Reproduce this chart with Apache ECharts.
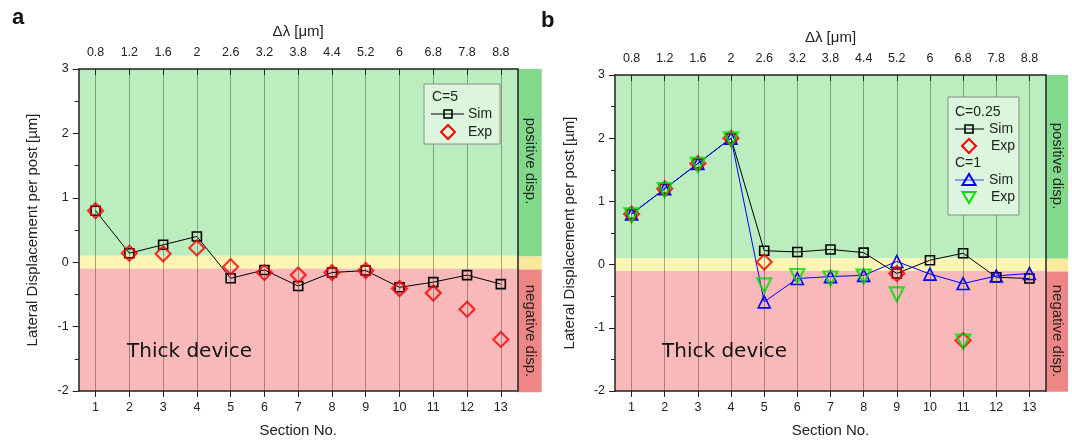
<!DOCTYPE html>
<html><head><meta charset="utf-8">
<script src="https://cdn.jsdelivr.net/npm/echarts@6/dist/echarts.min.js"></script>
<style>html,body{margin:0;padding:0;background:#fff}#c{width:1072px;height:443px}</style>
</head><body><div id="c"></div>
<script>
// ---- data ----
const sections = ['1','2','3','4','5','6','7','8','9','10','11','12','13'];
const deltaLambda = ['0.8','1.2','1.6','2','2.6','3.2','3.8','4.4','5.2','6','6.8','7.8','8.8'];
const yRange = [-2, 3];
const neutralBand = [-0.1, 0.1];
// panel a, C=5
const simC5 = [0.80, 0.14, 0.27, 0.40, -0.25, -0.12, -0.37, -0.16, -0.13, -0.39, -0.31, -0.20, -0.34];
const expC5 = [0.80, 0.14, 0.13, 0.22, -0.07, -0.16, -0.20, -0.16, -0.13, -0.41, -0.48, -0.73, -1.20];
// panel b, C=0.25 and C=1
const simC025 = [0.80, 1.20, 1.60, 2.00, 0.22, 0.20, 0.24, 0.19, -0.14, 0.07, 0.18, -0.20, -0.22];
const expC025 = [0.80, 1.20, 1.60, 2.00, 0.04, null, null, null, -0.14, null, -1.20, null, null];
const simC1 = [0.80, 1.20, 1.60, 2.00, -0.59, -0.22, -0.19, -0.17, 0.05, -0.15, -0.30, -0.18, -0.14];
const expC1 = [0.78, 1.18, 1.58, 1.98, -0.33, -0.18, -0.22, -0.19, -0.47, null, -1.22, null, null];

// ---- styling ----
const FONT = 'Liberation Sans, Arial, sans-serif';
const TXT = '#222';
const C = {
  green: '#bbedbe', yellow: '#fdf5b4', pink: '#f9b9bb',
  sGreen: '#82d98b', sYellow: '#f9e99c', sRed: '#ef8686',
  grid: 'rgba(60,60,60,0.45)'
};
const panels = [
  {left: 78.7, top: 69, width: 439, height: 323.3, strip: 24},
  {left: 615, top: 75, width: 431, height: 316.8, strip: 22}
];

const grid = [], xAxis = [], yAxis = [], series = [];
function bands(colors) {
  return [
    [{yAxis: neutralBand[1], itemStyle: {color: colors[0]}}, {yAxis: yRange[1]}],
    [{yAxis: neutralBand[0], itemStyle: {color: colors[1]}}, {yAxis: neutralBand[1]}],
    [{yAxis: yRange[0], itemStyle: {color: colors[2]}}, {yAxis: neutralBand[0]}]
  ];
}
panels.forEach((p, k) => {
  const g = grid.length;
  grid.push({left: p.left, top: p.top, width: p.width, height: p.height, containLabel: false});
  grid.push({left: p.left + p.width, top: p.top, width: p.strip, height: p.height, containLabel: false});
  const xb = xAxis.length;
  xAxis.push({gridIndex: g, type: 'category', data: sections, position: 'bottom', boundaryGap: true, z: 10,
    axisLine: {show: true, onZero: false, lineStyle: {color: '#222', width: 1.5}},
    axisTick: {show: true, alignWithLabel: true, inside: false, length: 6, lineStyle: {color: '#222'}},
    axisLabel: {interval: 0, margin: 10, fontSize: 12.5, color: TXT, fontFamily: FONT},
    splitLine: {show: false},
    name: 'Section No.', nameLocation: 'middle', nameGap: 32,
    nameTextStyle: {fontSize: 15, color: TXT, fontFamily: FONT}});
  xAxis.push({gridIndex: g, type: 'category', data: deltaLambda, position: 'top', boundaryGap: true, z: 10,
    axisLine: {show: true, onZero: false, lineStyle: {color: '#222', width: 1.5}},
    axisTick: {show: true, alignWithLabel: true, inside: true, length: 6, lineStyle: {color: '#222'}},
    axisLabel: {interval: 0, margin: 10, fontSize: 12.5, color: TXT, fontFamily: FONT},
    splitLine: {show: false},
    name: 'Δλ [μm]', nameLocation: 'middle', nameGap: 30,
    nameTextStyle: {fontSize: 15, color: TXT, fontFamily: FONT}});
  xAxis.push({gridIndex: g + 1, type: 'category', data: [''], show: false});
  const yb = yAxis.length;
  yAxis.push({gridIndex: g, type: 'value', min: yRange[0], max: yRange[1], interval: 1, z: 10,
    axisLine: {show: true, onZero: false, lineStyle: {color: '#222', width: 1.5}},
    axisTick: {show: true, inside: false, length: 6, lineStyle: {color: '#222'}},
    minorTick: {show: true, splitNumber: 2, length: 4, lineStyle: {color: '#222'}},
    axisLabel: {margin: 10, fontSize: 12.5, color: TXT, fontFamily: FONT},
    splitLine: {show: false},
    name: 'Lateral Displacement per post [µm]', nameLocation: 'middle', nameGap: 38, nameRotate: 90,
    nameTextStyle: {fontSize: 15, color: TXT, fontFamily: FONT}});
  yAxis.push({gridIndex: g, type: 'value', min: yRange[0], max: yRange[1], position: 'right', z: 10,
    axisLine: {show: true, onZero: false, lineStyle: {color: '#222', width: 1.5}},
    axisTick: {show: false}, axisLabel: {show: false}, splitLine: {show: false}});
  yAxis.push({gridIndex: g + 1, type: 'value', min: yRange[0], max: yRange[1], show: false});

  // background bands + vertical grid lines
  series.push({type: 'line', xAxisIndex: xb, yAxisIndex: yb, data: [], z: 1, silent: true,
    markArea: {silent: true, data: bands([C.green, C.yellow, C.pink])},
    markLine: {silent: true, symbol: ['none', 'none'], label: {show: false},
      lineStyle: {color: C.grid, width: 1, type: 'solid'},
      data: sections.map(s => ({xAxis: s}))}});
  series.push({type: 'line', xAxisIndex: xb + 2, yAxisIndex: yb + 2, data: [], z: 1, silent: true,
    markArea: {silent: true, data: bands([C.sGreen, C.sYellow, C.sRed])}});

  const simLine = (data, color, symbol, size) => ({type: 'line', xAxisIndex: xb, yAxisIndex: yb, data, z: 3,
    symbol, symbolSize: size, showSymbol: true,
    lineStyle: {color, width: 1}, itemStyle: {color: 'rgba(0,0,0,0)', borderColor: color, borderWidth: 1.6}});
  const expPts = (data, color, symbol, size, rot) => ({type: 'scatter', xAxisIndex: xb, yAxisIndex: yb, data, z: 4,
    symbol, symbolSize: size, symbolRotate: rot || 0,
    itemStyle: {color: 'rgba(0,0,0,0)', borderColor: color, borderWidth: 2.2}});
  if (k === 0) {
    series.push(simLine(simC5, '#000', 'rect', 9));
    series.push(expPts(expC5, '#ff0000', 'diamond', 15));
  } else {
    series.push(simLine(simC025, '#000', 'rect', 9));
    series.push(simLine(simC1, '#0000ff', 'triangle', 12));
    series.push(expPts(expC025, '#ff0000', 'diamond', 15));
    series.push(expPts(expC1, '#00e000', 'triangle', 14, 180));
  }
});

// ---- legends & annotations (graphic) ----
const T = (text, x, y, extra) => Object.assign({type: 'text', x, y, z: 100,
  style: Object.assign({text, fill: TXT, font: '14px ' + FONT, textVerticalAlign: 'middle'}, extra || {})});
const sq = (cx, cy, color) => ({type: 'rect', z: 100, shape: {x: cx - 4, y: cy - 4, width: 8, height: 8},
  style: {fill: 'none', stroke: color, lineWidth: 1.6}});
const ln = (x1, x2, y, color) => ({type: 'line', z: 100, shape: {x1, y1: y, x2, y2: y}, style: {stroke: color, lineWidth: 1}});
const poly = (pts, color) => ({type: 'polygon', z: 101, shape: {points: pts}, style: {fill: 'none', stroke: color, lineWidth: 2}});
const diamond = (cx, cy, color) => poly([[cx, cy - 7], [cx + 7, cy], [cx, cy + 7], [cx - 7, cy]], color);
const triUp = (cx, cy, color) => poly([[cx, cy - 6], [cx + 6.5, cy + 5], [cx - 6.5, cy + 5]], color);
const triDown = (cx, cy, color) => poly([[cx, cy + 6], [cx + 6.5, cy - 5], [cx - 6.5, cy - 5]], color);
const box = (x, y, w, h) => ({type: 'rect', z: 99, shape: {x, y, width: w, height: h},
  style: {fill: '#dbf6dc', stroke: '#8a8a8a', lineWidth: 1}});
const vtext = (text, x, y) => ({type: 'text', x, y, rotation: -Math.PI / 2, z: 100,
  style: {text, fill: TXT, font: '15px ' + FONT, textAlign: 'center', textVerticalAlign: 'middle'}});

const graphic = [
  T('a', 12, 18, {font: 'bold 22px ' + FONT, fill: '#111'}),
  T('b', 541, 21, {font: 'bold 22px ' + FONT, fill: '#111'}),
  T('Thick device', 127, 352, {font: '20px DejaVu Sans', fill: '#111'}),
  T('Thick device', 662, 352, {font: '20px DejaVu Sans', fill: '#111'}),
  vtext('positive disp.', 530, 161), vtext('negative disp.', 530, 331),
  vtext('positive disp.', 1057, 166), vtext('negative disp.', 1057, 331),
  // legend a
  box(424, 84, 76, 60),
  T('C=5', 432, 97),
  ln(431, 464, 114, '#000'), sq(448, 114, '#000'), T('Sim', 468, 114),
  diamond(448, 132, '#ff0000'), T('Exp', 468, 132),
  // legend b
  box(948, 97, 71, 118),
  T('C=0.25', 955, 112),
  ln(955, 984, 129, '#000'), sq(969, 129, '#000'), T('Sim', 989, 129),
  diamond(969, 146, '#ff0000'), T('Exp', 991, 146),
  T('C=1', 955, 163),
  ln(955, 984, 180, '#4040ff'), triUp(969, 180, '#0000ff'), T('Sim', 989, 180),
  triDown(969, 197, '#00e000'), T('Exp', 991, 197)
];

const chart = echarts.init(document.getElementById('c'), null, {renderer: 'canvas'});
chart.setOption({animation: false, backgroundColor: '#fff', grid, xAxis, yAxis, series, graphic,
  textStyle: {fontFamily: FONT}});
</script></body></html>
